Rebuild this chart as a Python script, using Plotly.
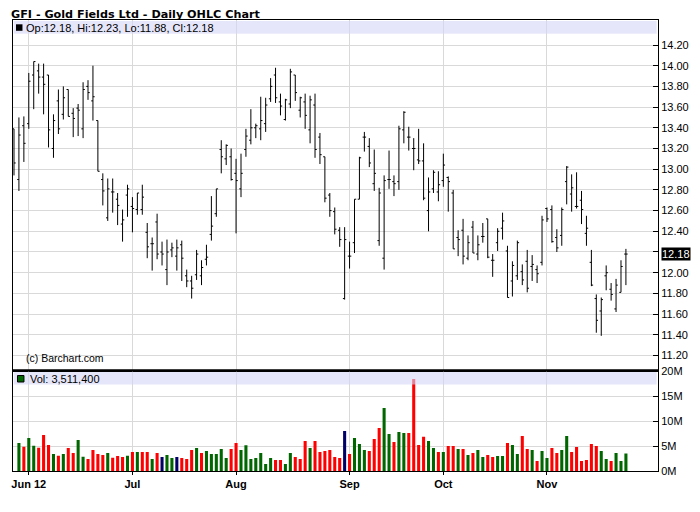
import pandas as pd
import plotly.graph_objects as go

# ---------------- data ----------------
holidays = ["2012-07-04", "2012-09-03", "2012-10-29", "2012-10-30", "2012-11-22"]
dates = [d.strftime("%Y-%m-%d") for d in pd.bdate_range("2012-05-29", "2012-11-26")
         if d.strftime("%Y-%m-%d") not in holidays]

opens = [13.39, 12.90, 13.42, 13.44, 13.91, 13.95, 13.89, 13.91, 13.20, 13.66,
         13.53, 13.77, 13.54, 13.59, 13.39, 13.80, 13.66, 13.47, 12.90, 12.53,
         12.78, 12.71, 12.47, 12.75, 12.64, 12.61, 12.61, 12.39, 12.28, 12.49,
         12.20, 12.03, 12.22, 12.16, 12.27, 11.97, 11.92, 11.98, 11.97, 12.13,
         12.37, 12.57, 13.19, 13.10, 13.12, 12.96, 12.81, 13.19, 13.28, 13.40,
         13.39, 13.44, 13.68, 13.91, 13.65, 13.48, 13.63, 13.91, 13.57, 13.65,
         13.38, 13.62, 13.31, 13.12, 12.75, 12.59, 12.41, 11.75, 12.16, 12.29,
         12.71, 13.31, 13.22, 12.86, 12.31, 12.14, 12.90, 12.88, 12.88, 13.38,
         13.31, 13.20, 13.09, 13.08, 12.60, 12.81, 12.78, 12.89, 12.92, 12.77,
         12.34, 12.41, 12.14, 12.44, 12.18, 12.35, 12.52, 12.12, 12.29, 12.43,
         12.21, 11.92, 11.97, 12.01, 12.11, 12.06, 12.03, 12.10, 12.62, 12.61,
         12.34, 12.36, 12.88, 12.76, 12.64, 12.70, 12.38, 12.10, 11.75, 11.63,
         11.97, 11.84, 11.65, 11.81, 12.18]
highs = [13.39, 13.50, 13.51, 13.93, 14.04, 14.02, 14.02, 13.91, 13.53, 13.77,
         13.80, 13.77, 13.59, 13.63, 13.84, 13.86, 14.00, 13.47, 12.96, 12.91,
         12.91, 12.77, 12.61, 12.85, 12.73, 12.77, 12.85, 12.48, 12.34, 12.57,
         12.30, 12.32, 12.29, 12.32, 12.31, 12.03, 11.97, 12.22, 12.12, 12.27,
         12.74, 12.81, 13.28, 13.24, 13.20, 13.10, 13.15, 13.39, 13.58, 13.44,
         13.70, 13.69, 13.88, 13.98, 13.73, 13.68, 13.97, 13.91, 13.70, 13.73,
         13.71, 13.73, 13.35, 13.12, 12.77, 12.63, 12.44, 12.44, 12.30, 12.71,
         13.12, 13.36, 13.30, 13.19, 12.82, 12.94, 13.18, 12.94, 13.42, 13.56,
         13.41, 13.30, 13.39, 13.25, 12.92, 12.99, 12.98, 13.15, 12.93, 12.80,
         12.41, 12.52, 12.36, 12.50, 12.36, 12.48, 12.52, 12.18, 12.43, 12.58,
         12.26, 12.11, 12.31, 12.08, 12.22, 12.17, 12.07, 12.55, 12.63, 12.65,
         12.42, 12.63, 13.03, 12.95, 12.97, 12.79, 12.55, 12.22, 11.79, 11.76,
         12.07, 11.90, 11.94, 12.12, 12.23]
lows = [12.94, 12.79, 13.07, 13.39, 13.58, 13.73, 13.53, 13.21, 13.11, 13.34,
        13.48, 13.51, 13.31, 13.32, 13.30, 13.67, 13.47, 12.98, 12.65, 12.50,
        12.58, 12.46, 12.30, 12.54, 12.39, 12.56, 12.56, 12.14, 12.02, 12.13,
        12.07, 11.88, 12.15, 12.02, 11.92, 11.86, 11.75, 11.93, 11.88, 12.07,
        12.31, 12.54, 12.96, 13.04, 12.89, 12.38, 12.73, 13.12, 13.24, 13.30,
        13.28, 13.36, 13.65, 13.64, 13.52, 13.47, 13.59, 13.66, 13.50, 13.39,
        13.25, 13.11, 13.05, 12.68, 12.54, 12.37, 12.25, 11.74, 12.04, 12.19,
        12.71, 13.17, 13.02, 12.79, 12.26, 12.03, 12.81, 12.74, 12.80, 13.25,
        13.18, 12.99, 13.05, 12.70, 12.40, 12.77, 12.69, 12.83, 12.59, 12.23,
        12.16, 12.08, 12.12, 12.19, 12.12, 12.29, 12.14, 11.96, 12.21, 12.32,
        11.76, 11.77, 11.93, 11.88, 11.81, 11.92, 11.90, 12.07, 12.49, 12.29,
        12.20, 12.26, 12.66, 12.59, 12.62, 12.47, 12.26, 11.87, 11.42, 11.39,
        11.83, 11.73, 11.62, 11.81, 11.88]
closes = [13.06, 13.33, 13.25, 13.85, 14.04, 13.89, 13.82, 13.38, 13.47, 13.39,
          13.69, 13.51, 13.49, 13.57, 13.77, 13.74, 13.70, 12.98, 12.79, 12.81,
          12.78, 12.65, 12.51, 12.81, 12.62, 12.77, 12.73, 12.25, 12.28, 12.18,
          12.18, 12.20, 12.24, 12.24, 12.14, 11.92, 11.85, 12.18, 12.05, 12.15,
          12.45, 12.81, 13.12, 13.23, 12.90, 12.89, 12.96, 13.32, 13.40, 13.42,
          13.47, 13.62, 13.80, 13.69, 13.61, 13.67, 13.94, 13.74, 13.69, 13.52,
          13.67, 13.19, 13.14, 12.72, 12.60, 12.42, 12.32, 12.32, 12.16, 12.71,
          13.11, 13.31, 13.06, 12.96, 12.77, 12.89, 12.90, 12.86, 13.39, 13.55,
          13.31, 13.20, 13.08, 12.72, 12.78, 12.97, 12.85, 13.04, 12.88, 12.23,
          12.32, 12.16, 12.29, 12.19, 12.27, 12.35, 12.15, 12.12, 12.40, 12.50,
          11.76, 12.07, 12.29, 11.93, 11.85, 12.08, 11.99, 12.51, 12.52, 12.30,
          12.24, 12.61, 13.02, 12.82, 12.64, 12.61, 12.43, 11.88, 11.54, 11.74,
          12.00, 11.79, 11.88, 12.06, 12.18]
# volume in millions of shares
volume_m = [None, 5.6, 4.87, 6.6, 5.07, 4.67, 7.2, 5.2, 3.4, 3.07,
            3.4, 4.6, 3.6, 6.2, 2.87, 2.4, 4.2, 3.4, 3.2, 3.6,
            2.67, 3.0, 2.8, 3.07, 3.8, 3.8, 3.8, 3.8, 2.4, 3.6,
            2.8, 3.2, 2.6, 2.8, 2.6, 2.4, 4.2, 4.6, 3.6, 4.0,
            3.4, 3.4, 4.4, 2.6, 4.4, 5.6, 4.2, 5.13, 2.4, 2.6,
            3.6, 1.4, 2.6, 2.2, 2.2, 1.4, 3.6, 2.8, 2.4, 6.0,
            4.6, 6.0, 3.8, 4.0, 4.2, 2.8, 2.6, 8.0, 3.4, 6.6,
            5.4, 4.2, 4.0, 6.4, 8.6, 12.6, 7.4, 5.8, 7.8, 7.6,
            7.6, 18.4, 5.2, 6.87, 6.0, 4.6, 3.8, 3.8, 5.0, 5.0,
            4.4, 4.4, 3.2, 3.6, 4.2, 2.8, 3.2, 2.8, 3.0, 3.0,
            5.6, 5.2, 3.4, 7.0, 4.4, 4.2, 2.0, 4.0, 2.6, 4.6,
            3.6, 4.2, 7.0, 3.8, 4.8, 2.0, 2.2, 5.4, 5.0, 4.0,
            2.4, 2.0, 3.6, 2.0, 3.5114]

month_ticks = ["2012-06-01", "2012-07-02", "2012-08-01", "2012-09-04", "2012-10-01", "2012-11-01"]
month_labels = ["Jun 12", "Jul", "Aug", "Sep", "Oct", "Nov"]
price_ticks = [11.2, 11.4, 11.6, 11.8, 12.0, 12.2, 12.4, 12.6, 12.8, 13.0,
               13.2, 13.4, 13.6, 13.8, 14.0, 14.2]
vol_ticks = [0, 5, 10, 15, 20]
vol_labels = ["0M", "5M", "10M", "15M", "20M"]

# ---------------- styling ----------------
GREEN, RED, NAVY = "#006600", "#ff0000", "#000066"
GRID = "#d9d9d9"
FONT = "Liberation Sans, Arial, sans-serif"
TITLE_FONT = "DejaVu Sans, Verdana, sans-serif"

vol_colors = [NAVY]
for p, c in zip(closes[:-1], closes[1:]):
    vol_colors.append(GREEN if c > p else (RED if c < p else NAVY))

# the page body has an 8px default margin: work in page pixels, shift by OFF
OFF = 8
PAGE_W, PAGE_H = 700, 512
W, H = PAGE_W - 2 * OFF, PAGE_H - 2 * OFF
PLOT_L, PLOT_R, PLOT_T, PLOT_B = 11, 658, 20, 471          # page pixel coords
ML, MT = PLOT_L - OFF, PLOT_T - OFF
MR, MB = W - (PLOT_R - OFF), H - (PLOT_B - OFF)
PW, PH = PLOT_R - PLOT_L, PLOT_B - PLOT_T


def px_x(x):
    return (x - PLOT_L) / PW


def px_y(y):
    return (PLOT_B - y) / PH


split = px_y(370.5)

fig = go.Figure()
fig.add_trace(go.Ohlc(
    x=dates, open=opens, high=highs, low=lows, close=closes,
    increasing=dict(line=dict(color="black", width=1)),
    decreasing=dict(line=dict(color="black", width=1)),
    tickwidth=0.35, xaxis="x", yaxis="y", hoverinfo="skip",
))
fig.add_trace(go.Bar(
    x=dates, y=volume_m, marker=dict(color=vol_colors, line=dict(width=0)),
    xaxis="x2", yaxis="y2", hoverinfo="skip",
))

last = closes[-1]
price_text = ["" if abs(v - last) < 0.05 else f"{v:.2f}" for v in price_ticks]

axis_common = dict(showline=True, linecolor="black", linewidth=1, mirror=True,
                   gridcolor=GRID, gridwidth=1, zeroline=False)

fig.update_layout(
    width=W, height=H,
    margin=dict(l=ML, r=MR, t=MT, b=MB, pad=0),
    paper_bgcolor="white", plot_bgcolor="white",
    showlegend=False, bargap=0.38,
    font=dict(family=FONT, size=11, color="black"),
    title=dict(text="GFI - Gold Fields Ltd - Daily OHLC Chart",
               x=(11 - OFF) / W, xanchor="left",
               y=1 - (14.4 - OFF) / H, yanchor="middle",
               font=dict(family=TITLE_FONT, size=11.2, color="black", weight="bold")),
    xaxis=dict(type="category", categoryorder="array", categoryarray=dates,
               range=[-0.2, 130.5], domain=[0, 1], anchor="y",
               tickvals=month_ticks, showticklabels=False, ticks="",
               rangeslider=dict(visible=False), showgrid=True, **axis_common),
    xaxis2=dict(type="category", categoryorder="array", categoryarray=dates,
                matches="x", domain=[0, 1], anchor="y2",
                tickvals=month_ticks, ticktext=month_labels, ticks="outside", ticklen=3,
                tickcolor="black",
                tickfont=dict(family=FONT, size=11, color="black", weight="bold"),
                showgrid=True, **axis_common),
    yaxis=dict(domain=[split, 1], range=[11.055, 14.4415], side="right", anchor="x",
               tickvals=price_ticks, ticktext=price_text, ticks="inside", ticklen=5,
               tickcolor="black", tickfont=dict(size=11), showgrid=True, **axis_common),
    yaxis2=dict(domain=[0, split], range=[0, 20.1], side="right", anchor="x2",
                tickvals=vol_ticks, ticktext=vol_labels, ticks="inside", ticklen=5,
                tickcolor="black", tickfont=dict(size=11), showgrid=True, **axis_common),
)

shapes = [
    # legend bands (translucent lavender)
    dict(type="rect", xref="paper", yref="paper", x0=px_x(11.8), x1=px_x(656.7),
         y0=px_y(33.8), y1=px_y(21), fillcolor="rgb(213,213,247)", opacity=0.6,
         line=dict(width=0), layer="above"),
    dict(type="rect", xref="paper", yref="paper", x0=px_x(11.8), x1=px_x(656.7),
         y0=px_y(384.5), y1=px_y(372), fillcolor="rgb(213,213,247)", opacity=0.6,
         line=dict(width=0), layer="above"),
    # legend squares
    dict(type="rect", xref="paper", yref="paper", x0=px_x(14), x1=px_x(20.5),
         y0=px_y(30.8), y1=px_y(24.3), fillcolor="black", line=dict(width=0), layer="above"),
    dict(type="rect", xref="paper", yref="paper", x0=px_x(15.5), x1=px_x(22),
         y0=px_y(382), y1=px_y(375.5), fillcolor=GREEN,
         line=dict(width=1, color="black"), layer="above"),
    # panel separator
    dict(type="line", xref="paper", yref="paper", x0=0, x1=1, y0=split, y1=split,
         line=dict(color="black", width=2.5), layer="above"),
]
fig.update_layout(shapes=shapes)

annotations = [
    dict(text=f"Op:{opens[-1]:.2f}, Hi:{highs[-1]:.2f}, Lo:{lows[-1]:.2f}, Cl:{closes[-1]:.2f}",
         xref="paper", yref="paper", x=px_x(22.5), y=px_y(28.1), xanchor="left",
         yanchor="middle", showarrow=False, font=dict(size=11, color="black")),
    dict(text=f"Vol: {int(round(volume_m[-1] * 1e6)):,}",
         xref="paper", yref="paper", x=px_x(26.5), y=px_y(379), xanchor="left",
         yanchor="middle", showarrow=False, font=dict(size=11, color="black")),
    dict(text="(c) Barchart.com", xref="paper", yref="paper", x=px_x(22.5), y=px_y(357.5),
         xanchor="left", yanchor="middle", showarrow=False,
         font=dict(size=10.5, color="black")),
    dict(text=f"{last:.2f}", xref="paper", yref="y", x=1, y=last, xanchor="left",
         yanchor="middle", xshift=2.5, showarrow=False, bgcolor="black", borderpad=0,
         font=dict(size=11, color="white")),
]
fig.update_layout(annotations=annotations)

fig.write_html("out.html")
